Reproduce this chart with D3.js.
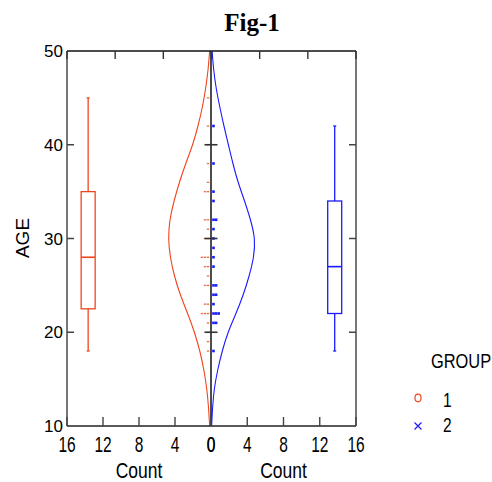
<!DOCTYPE html>
<html><head><meta charset="utf-8">
<script src="https://cdn.jsdelivr.net/npm/d3@7"></script>
<style>body{margin:0;background:#fff}svg{display:block}</style>
</head><body>
<script>
// ---- data ----
const title = "Fig-1";
const ageTicks = [10, 20, 30, 40, 50];
const countTicks = [16, 12, 8, 4, 0];
const topTicks = [-3, -2, -1, 0, 1, 2, 3];
const groups = ["1", "2"];
// box plot stats: [min, q1, median, q3, max]
const box1 = [18, 22.5, 28, 35, 45];
const box2 = [18, 22, 27, 34, 42];
// density curves (count width) read at ages
const densAges = [10, 12, 14, 16, 18, 20, 22, 24, 26, 28, 30, 32, 34, 36, 38, 40, 42, 44, 46, 48, 50];
const dens1 = [0.15, 0.28, 0.48, 0.8, 1.25, 1.85, 2.6, 3.4, 4.05, 4.5, 4.7, 4.55, 4.1, 3.5, 2.8, 2.05, 1.45, 0.97, 0.6, 0.33, 0.15];
const dens2 = [0.07, 0.18, 0.38, 0.75, 1.25, 1.9, 2.75, 3.55, 4.2, 4.68, 4.78, 4.35, 3.7, 3.0, 2.42, 1.92, 1.43, 0.98, 0.58, 0.3, 0.12];
// strip data: ages and counts
const strip1Ages = [45, 42, 40, 38, 36, 35, 32, 31, 30, 28, 27, 26, 25, 23, 22, 21, 20, 19, 18];
const strip1Counts = [1, 1, 1, 1, 1, 2, 2, 1, 2, 3, 2, 1, 2, 2, 3, 1, 1, 1, 1];
const strip2Ages = [42, 38, 35, 34, 32, 31, 30, 29, 28, 27, 25, 24, 23, 22, 21, 18];
const strip2Counts = [1, 1, 1, 1, 2, 1, 1, 1, 1, 1, 2, 2, 1, 3, 2, 1];
const boxPos = 13.65;

const RED = "#f0441e", BLUE = "#1a1aff";
const W = 492, H = 482;
const L = 67, R = 356, T = 51, B = 426, C = 211;

const svg = d3.select("body").append("svg").attr("width", W).attr("height", H)
  .style("font-family", "'Liberation Sans', Arial, sans-serif");

const y = d3.scaleLinear().domain([10, 50]).range([B, T]);
const xl = d3.scaleLinear().domain([16, 0]).range([L, C]);
const xr = d3.scaleLinear().domain([0, 16]).range([C, R]);
const xt = d3.scaleLinear().domain([-3, 3]).range([L, R]);

// title
svg.append("text").attr("x", 252).attr("y", 31).attr("text-anchor", "middle")
  .style("font-family", "'Liberation Serif', 'Times New Roman', serif")
  .style("font-weight", "bold").style("font-size", "25px").text(title);

// density curves
const lineL = d3.line().x(d => xl(d[1])).y(d => y(d[0])).curve(d3.curveNatural);
const lineR = d3.line().x(d => xr(d[1])).y(d => y(d[0])).curve(d3.curveNatural);
svg.append("path").attr("d", lineL(densAges.map((a, i) => [a, dens1[i]])))
  .attr("fill", "none").attr("stroke", RED).attr("stroke-width", 1.1);
svg.append("path").attr("d", lineR(densAges.map((a, i) => [a, dens2[i]])))
  .attr("fill", "none").attr("stroke", BLUE).attr("stroke-width", 1.1);

// strip marks
strip1Ages.forEach((a, i) => {
  for (let k = 0; k < strip1Counts[i]; k++) {
    svg.append("rect").attr("x", C - 4.2 - k * 3).attr("y", y(a) - 0.6)
      .attr("width", 2.4).attr("height", 1.3).attr("fill", RED).attr("opacity", 0.8);
  }
});
strip2Ages.forEach((a, i) => {
  for (let k = 0; k < strip2Counts[i]; k++) {
    svg.append("rect").attr("x", C + 1.2 + k * 2.6).attr("y", y(a) - 1.3)
      .attr("width", 2.6).attr("height", 2.6).attr("fill", BLUE);
  }
});

// box plots
function drawBox(st, cx, col) {
  const g = svg.append("g").attr("stroke", col).attr("fill", "none").attr("stroke-width", 1.3);
  const hw = 7;
  g.append("line").attr("x1", cx).attr("x2", cx).attr("y1", y(st[0])).attr("y2", y(st[1]));
  g.append("line").attr("x1", cx).attr("x2", cx).attr("y1", y(st[3])).attr("y2", y(st[4]));
  g.append("line").attr("x1", cx - 1.5).attr("x2", cx + 1.5).attr("y1", y(st[0])).attr("y2", y(st[0]));
  g.append("line").attr("x1", cx - 1.5).attr("x2", cx + 1.5).attr("y1", y(st[4])).attr("y2", y(st[4]));
  g.append("rect").attr("x", cx - hw).attr("width", 2 * hw)
    .attr("y", y(st[3])).attr("height", y(st[1]) - y(st[3]));
  g.append("line").attr("x1", cx - hw).attr("x2", cx + hw).attr("y1", y(st[2])).attr("y2", y(st[2])).attr("stroke-width", 1.6);
}
drawBox(box1, xl(boxPos), RED);
drawBox(box2, xr(boxPos), BLUE);

// frame
svg.append("line").attr("x1", L).attr("x2", L).attr("y1", T).attr("y2", B).attr("stroke", "#777").attr("stroke-width", 2);
svg.append("line").attr("x1", R).attr("x2", R).attr("y1", T).attr("y2", B).attr("stroke", "#777").attr("stroke-width", 2);
svg.append("line").attr("x1", L).attr("x2", R).attr("y1", T).attr("y2", T).attr("stroke", "#111").attr("stroke-width", 1.6);
svg.append("line").attr("x1", L).attr("x2", R).attr("y1", B).attr("y2", B).attr("stroke", "#222").attr("stroke-width", 1.6);

// center axis
svg.append("line").attr("x1", C).attr("x2", C).attr("y1", T).attr("y2", B).attr("stroke", "#000").attr("stroke-width", 1.4);
const inner = ageTicks.filter(a => a > 10 && a < 50);
inner.forEach(a => {
  svg.append("line").attr("x1", C - 6.5).attr("x2", C + 6.5).attr("y1", y(a)).attr("y2", y(a)).attr("stroke", "#333").attr("stroke-width", 1.6);
  svg.append("line").attr("x1", L).attr("x2", L + 7).attr("y1", y(a)).attr("y2", y(a)).attr("stroke", "#444").attr("stroke-width", 1.5);
  svg.append("line").attr("x1", R - 7).attr("x2", R).attr("y1", y(a)).attr("y2", y(a)).attr("stroke", "#444").attr("stroke-width", 1.5);
});
// top ticks
topTicks.forEach(t => {
  svg.append("line").attr("x1", xt(t)).attr("x2", xt(t)).attr("y1", T).attr("y2", T + 8).attr("stroke", "#333").attr("stroke-width", 1.4);
});
// bottom ticks
countTicks.forEach(c => {
  [xl(c), xr(c)].forEach(px => {
    svg.append("line").attr("x1", px).attr("x2", px).attr("y1", B - 9).attr("y2", B).attr("stroke", "#444").attr("stroke-width", 1.4);
  });
});

// y tick labels
ageTicks.forEach(a => {
  svg.append("text").attr("x", 63).attr("y", y(a) + 6).attr("text-anchor", "end")
    .style("font-size", "17px").text(a);
});
// x tick labels (stretched)
function stretched(x, yy, txt, size, sy, anchor) {
  svg.append("text").attr("transform", `translate(${x},${yy}) scale(1,${sy})`)
    .attr("text-anchor", anchor || "middle").style("font-size", size + "px").text(txt);
}
countTicks.forEach(c => {
  stretched(xl(c), 452, c, 15.5, 1.4);
  stretched(xr(c), 452, c, 15.5, 1.4);
});
stretched((L + C) / 2, 478, "Count", 17.5, 1.22);
stretched((C + R) / 2, 478, "Count", 17.5, 1.22);

// y axis label
svg.append("text").attr("transform", "translate(29,238) rotate(-90)")
  .attr("text-anchor", "middle").style("font-size", "19px").text("AGE");

// legend
stretched(431, 368, "GROUP", 16.4, 1.28, "start");
svg.append("ellipse").attr("cx", 418).attr("cy", 398).attr("rx", 3).attr("ry", 3.8)
  .attr("fill", "none").attr("stroke", RED).attr("stroke-width", 1.2);
const bx = 418, by = 426;
svg.append("path").attr("d", `M${bx-3.5},${by-3.5}L${bx+3.5},${by+3.5}M${bx-3.5},${by+3.5}L${bx+3.5},${by-3.5}`)
  .attr("stroke", BLUE).attr("stroke-width", 1.2);
stretched(443, 407, groups[0], 15.5, 1.3, "start");
stretched(443, 432, groups[1], 15.5, 1.3, "start");
</script>
</body></html>
